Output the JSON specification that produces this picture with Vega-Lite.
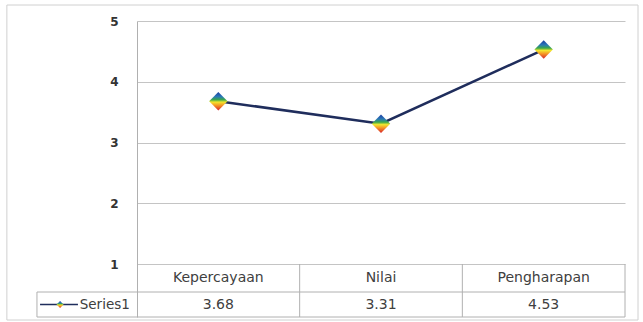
{
  "$schema": "https://vega.github.io/schema/vega-lite/v6.json",
  "width": 488,
  "height": 296,
  "autosize": {"type": "none"},
  "padding": {"left": 137, "top": 21, "right": 18, "bottom": 5},
  "background": "white",
  "config": {
    "view": {"stroke": null},
    "font": "DejaVu Sans"
  },
  "data": {
    "values": [
      {"category": "Kepercayaan", "value": 3.68},
      {"category": "Nilai", "value": 3.31},
      {"category": "Pengharapan", "value": 4.53}
    ]
  },
  "resolve": {"scale": {"x": "independent"}},
  "layer": [
    {
      "data": {"values": [{}]},
      "mark": {"type": "rect", "fill": null, "stroke": "#d0d0d0", "strokeWidth": 1},
      "encoding": {
        "x": {"datum": -0.8, "type": "quantitative", "scale": {"domain": [0, 3]}, "axis": null},
        "x2": {"datum": 3.08},
        "y": {
          "datum": 0.078, "type": "quantitative",
          "scale": {"domain": [0.1276, 5], "nice": false, "zero": false},
          "axis": {
            "title": null, "values": [1, 2, 3, 4, 5], "grid": true, "gridColor": "#c4c4c4", "gridWidth": 1,
            "domain": true, "domainColor": "#b0b0b0", "domainWidth": 1,
            "ticks": false, "labelPadding": 19, "labelFontSize": 12, "labelFontWeight": "bold",
            "labelColor": "#333333", "labelFont": "DejaVu Sans", "format": "d"
          }
        },
        "y2": {"datum": 5.263}
      }
    },
    {
      "data": {"values": [{}]},
      "mark": {"type": "rule", "color": "#b0b0b0", "strokeWidth": 1},
      "encoding": {
        "x": {"datum": -0.615, "type": "quantitative", "scale": {"domain": [0, 3]}, "axis": null},
        "x2": {"datum": 3},
        "y": {"datum": 0.539, "type": "quantitative"}
      }
    },
    {
      "data": {"values": [{}]},
      "mark": {"type": "rule", "color": "#b0b0b0", "strokeWidth": 1},
      "encoding": {
        "x": {"datum": -0.615, "type": "quantitative", "scale": {"domain": [0, 3]}, "axis": null},
        "x2": {"datum": 3},
        "y": {"datum": 0.1276, "type": "quantitative"}
      }
    },
    {
      "data": {"values": [{}]},
      "mark": {"type": "rule", "color": "#b0b0b0", "strokeWidth": 1},
      "encoding": {
        "x": {"datum": -0.615, "type": "quantitative", "scale": {"domain": [0, 3]}, "axis": null},
        "y": {"datum": 0.1276, "type": "quantitative"},
        "y2": {"datum": 0.539}
      }
    },
    {
      "data": {"values": [{}]},
      "mark": {"type": "rule", "color": "#b0b0b0", "strokeWidth": 1},
      "encoding": {
        "x": {"datum": 1, "type": "quantitative", "scale": {"domain": [0, 3]}, "axis": null},
        "y": {"datum": 0.1276, "type": "quantitative"},
        "y2": {"datum": 1}
      }
    },
    {
      "data": {"values": [{}]},
      "mark": {"type": "rule", "color": "#b0b0b0", "strokeWidth": 1},
      "encoding": {
        "x": {"datum": 2, "type": "quantitative", "scale": {"domain": [0, 3]}, "axis": null},
        "y": {"datum": 0.1276, "type": "quantitative"},
        "y2": {"datum": 1}
      }
    },
    {
      "data": {"values": [{}]},
      "mark": {"type": "rule", "color": "#b0b0b0", "strokeWidth": 1},
      "encoding": {
        "x": {"datum": 3, "type": "quantitative", "scale": {"domain": [0, 3]}, "axis": null},
        "y": {"datum": 0.1276, "type": "quantitative"},
        "y2": {"datum": 1}
      }
    },
    {
      "data": {"values": [{}]},
      "mark": {"type": "rule", "color": "#1f2d5c", "strokeWidth": 1.5},
      "encoding": {
        "x": {"datum": -0.596, "type": "quantitative", "scale": {"domain": [0, 3]}, "axis": null},
        "x2": {"datum": -0.363},
        "y": {"datum": 0.333, "type": "quantitative"}
      }
    },
    {
      "data": {"values": [{}]},
      "mark": {
        "type": "point", "shape": "diamond", "size": 50, "filled": true, "opacity": 1,
        "fill": {"gradient": "linear", "x1": 0, "y1": 0, "x2": 0, "y2": 1,
          "stops": [
            {"offset": 0, "color": "#1a3d9f"},
            {"offset": 0.25, "color": "#2a78b8"},
            {"offset": 0.42, "color": "#3aa84a"},
            {"offset": 0.55, "color": "#f2e62e"},
            {"offset": 0.72, "color": "#f59a26"},
            {"offset": 1, "color": "#d8232a"}
          ]}
      },
      "encoding": {
        "x": {"datum": -0.473, "type": "quantitative", "scale": {"domain": [0, 3]}, "axis": null},
        "y": {"datum": 0.333, "type": "quantitative"}
      }
    },
    {
      "data": {"values": [{}]},
      "mark": {"type": "text", "align": "left", "baseline": "middle", "fontSize": 13.5, "fontWeight": "normal", "color": "#404040", "font": "DejaVu Sans", "text": "Series1"},
      "encoding": {
        "x": {"datum": -0.352, "type": "quantitative", "scale": {"domain": [0, 3]}, "axis": null},
        "y": {"datum": 0.333, "type": "quantitative"}
      }
    },
    {
      "mark": {"type": "line", "color": "#1f2d5c", "strokeWidth": 2.5},
      "encoding": {
        "x": {"field": "category", "type": "nominal", "sort": null, "scale": {"type": "point", "domain": ["Kepercayaan", "Nilai", "Pengharapan"], "padding": 0.5}, "axis": null},
        "y": {"field": "value", "type": "quantitative"}
      }
    },
    {
      "mark": {
        "type": "point", "shape": "diamond", "size": 340, "filled": true, "opacity": 1,
        "fill": {"gradient": "linear", "x1": 0, "y1": 0, "x2": 0, "y2": 1,
          "stops": [
            {"offset": 0, "color": "#1a3d9f"},
            {"offset": 0.25, "color": "#2a78b8"},
            {"offset": 0.42, "color": "#3aa84a"},
            {"offset": 0.55, "color": "#f2e62e"},
            {"offset": 0.72, "color": "#f59a26"},
            {"offset": 1, "color": "#d8232a"}
          ]}
      },
      "encoding": {
        "x": {"field": "category", "type": "nominal", "sort": null, "scale": {"type": "point", "domain": ["Kepercayaan", "Nilai", "Pengharapan"], "padding": 0.5}, "axis": null},
        "y": {"field": "value", "type": "quantitative"}
      }
    },
    {
      "mark": {"type": "text", "align": "center", "baseline": "middle", "fontSize": 14, "color": "#404040", "font": "DejaVu Sans"},
      "encoding": {
        "x": {"field": "category", "type": "nominal", "sort": null, "scale": {"type": "point", "domain": ["Kepercayaan", "Nilai", "Pengharapan"], "padding": 0.5}, "axis": null},
        "y": {"datum": 0.77, "type": "quantitative"},
        "text": {"field": "category"}
      }
    },
    {
      "mark": {"type": "text", "align": "center", "baseline": "middle", "fontSize": 14, "color": "#404040", "font": "DejaVu Sans"},
      "encoding": {
        "x": {"field": "category", "type": "nominal", "sort": null, "scale": {"type": "point", "domain": ["Kepercayaan", "Nilai", "Pengharapan"], "padding": 0.5}, "axis": null},
        "y": {"datum": 0.333, "type": "quantitative"},
        "text": {"field": "value", "type": "quantitative", "format": ".2f"}
      }
    }
  ]
}
